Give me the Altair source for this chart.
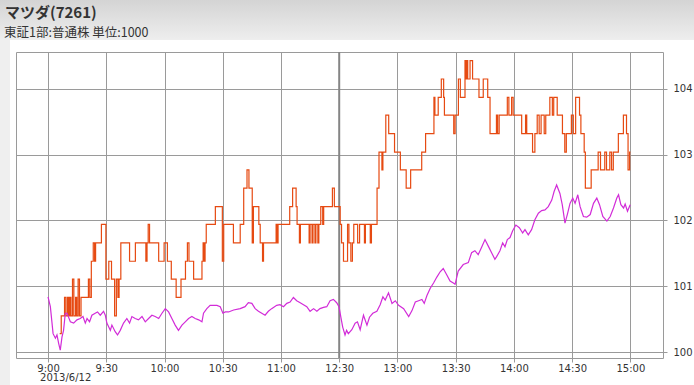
import json
import altair as alt
import pandas as pd

# ---------------- data (x = trading minutes since 9:00, lunch break removed) -------------
tick_minutes = [0, 30, 60, 90, 120, 150, 180, 210, 240, 270, 300]
tick_labels = ["9:00", "9:30", "10:00", "10:30", "11:00", "12:30",
               "13:00", "13:30", "14:00", "14:30", "15:00"]
y_ticks = [100, 101, 102, 103, 104]
break_minute = 150
date_label = "2013/6/12"
title_text = "マツダ(7261)"
subtitle_text = "東証1部:普通株 単位:1000"

# stock (orange step line): change points
orange_minutes = [
    6, 6.8, 8.5, 9.2, 10, 10.6, 11.2, 11.8, 12.6, 13.3, 14.2, 14.8, 15.5, 16.2, 17,
    20.8, 21.5, 22.3, 23.3, 24, 24.5, 27.5, 29.8, 31.3, 32.7, 34.3, 35.2, 36, 36.6, 37.5,
    42, 45, 50.4, 51, 51.6, 52.3, 57, 59.8, 61.5, 63.5, 66, 68.5, 70.8, 71.8, 72.6,
    75, 79.3, 79.9, 80.4, 80.9, 81.5, 86.2, 89.8, 90.5, 95.5, 99, 100.8, 102.5, 103.5,
    105.2, 105.8, 108.6, 109.3, 110.5, 111, 117.5, 118, 118.5, 124.5, 126, 127.8, 128.3,
    129.5, 130, 134.5, 135, 136, 136.5, 137.5, 138, 139, 139.5, 140.5, 141.5, 142,
    146.5, 147.5, 150.5, 151.2, 152.2, 154.3, 155, 156, 156.8, 157.5, 159.5, 160.5,
    163, 163.5, 166, 166.6, 169.5, 170.5, 172, 172.5, 174, 175.5, 178.5, 181.5, 184.5,
    186.8, 192.5, 194.5, 198.8, 199.3, 201, 202.6, 203.8, 204.2, 209, 209.7, 211.4,
    212.4, 214.8, 215.4, 215.8, 216.2, 217.4, 218.7, 222, 224.2, 226.5, 227.7, 231,
    231.6, 232.4, 236.6, 237.4, 238.8, 239.6, 244, 246, 246.6, 249.6, 250.8, 252, 253,
    254, 255.6, 256.4, 258.5, 259.8, 260.5, 262.3, 265, 266.2, 267, 269.6, 270.6, 271.8,
    273.8, 274.5, 276.2, 276.8, 279.8, 283.4, 284.6, 286.8, 287.7, 289.4, 290.3, 291.2,
    293.8, 296.4, 298, 298.8, 299.6, 300,
]
orange_values = [
    100.28, 100.55, 100.83, 100.55, 100.83, 100.55, 100.83, 100.55, 101.11, 100.55, 100.83, 100.55, 101.11, 100.55, 100.83,
    101.11, 100.83, 101.38, 101.66, 101.38, 101.66, 101.94, 101.11, 101.38, 101.11, 100.55, 101.11, 100.83, 101.11, 101.66,
    101.38, 101.66, 101.38, 101.66, 101.94, 101.66, 101.38, 101.66, 101.38, 101.11, 100.83, 101.11, 101.38, 101.66, 101.38,
    101.11, 101.38, 101.66, 101.38, 101.66, 101.94, 102.21, 101.38, 101.94, 101.66, 101.94, 102.49, 102.77, 102.49,
    101.66, 102.21, 101.94, 101.66, 101.38, 101.66, 101.94, 101.66, 101.94, 102.21, 102.49, 102.21, 101.94,
    101.66, 101.94, 101.66, 101.94, 101.66, 101.94, 101.66, 101.94, 101.66, 101.94, 102.21, 101.94, 102.21,
    102.49, 102.21, 101.94, 101.66, 101.38, 101.94, 101.66, 101.38, 101.66, 101.94, 101.66, 101.94,
    101.66, 101.94, 101.66, 101.94, 102.49, 103.04, 102.77, 103.04, 103.60, 103.32, 103.04, 102.77, 102.49,
    102.77, 103.04, 103.32, 103.87, 103.60, 103.87, 104.15, 103.87, 103.60, 103.32, 103.60, 104.15,
    103.87, 104.43, 104.15, 104.43, 104.15, 104.43, 104.15, 103.87, 104.15, 103.87, 103.32, 103.60,
    103.32, 103.60, 103.87, 103.60, 103.87, 103.60, 103.32, 103.60, 103.32, 103.04, 103.32, 103.60, 103.32,
    103.60, 103.32, 103.60, 103.87, 103.60, 103.87, 103.60, 103.32, 103.04, 103.32, 103.60, 103.32, 103.87,
    103.60, 103.32, 103.04, 102.49, 102.77, 103.04, 102.77, 103.04, 102.77, 103.04, 102.77, 103.04,
    103.32, 103.60, 103.32, 102.77, 103.04, 103.04,
]

# index (magenta line)
magenta_minutes = [
    0, 1.2, 2.6, 3.8, 4.6, 5.5, 6.3, 7.2, 8.0, 8.9, 9.8, 11.5, 13.2, 14.9, 16.6, 18, 19.2,
    20.1, 21.4, 22.6, 24.3, 25.5, 26.9, 28.6, 29.5, 30.3, 32.1, 32.9, 34.6, 35.8, 37.2,
    38.9, 40.6, 42, 43.2, 44.9, 46.6, 48.4, 50.1, 51.8, 53.5, 55.2, 57, 58.7, 60.4, 62.1,
    63.8, 65.5, 67.2, 69, 70.7, 72.4, 74.1, 75.8, 77.6, 79.3, 80.1, 81.8, 83.5, 85.3, 87,
    88.7, 90.1, 91.3, 93, 95.6, 99, 101.5, 103.2, 105, 106.7, 108.4, 110.1, 111.8, 113.5,
    115.2, 117.8, 119.5, 121.3, 123, 124.7, 126.4, 128.1, 129.9, 131.6, 133.3, 135, 136.8,
    138.5, 140.1, 141.9, 143.6, 145.3, 147, 148.7, 149.9, 150.8, 151.8, 153, 153.8, 154.7,
    156.5, 158.2, 159.4, 160.8, 162.5, 164.3, 165.6, 167.3, 169.4, 171.1, 172.5, 173.7,
    175.4, 177.2, 178.9, 180.6, 183.2, 185.8, 187.5, 189.2, 190.9, 192.6, 193.8, 195.2,
    196.9, 198.6, 200.3, 202, 203.6, 205.3, 207.1, 208.8, 209.7, 211.3, 213.9, 216.5,
    218.2, 219.9, 221.6, 223.3, 225.1, 226.8, 228.5, 230.2, 231.1, 232.8, 234.2, 235.4,
    236.6, 238, 239.3, 241, 242.8, 244.5, 245.7, 247.4, 249.1, 250.8, 252.6, 254.3, 256,
    257.7, 259.5, 260.7, 262, 263.7, 264.9, 266.3, 267.5, 268.9, 270.3, 271.5, 272.9,
    274.1, 275.8, 277.5, 279.3, 281, 282.7, 284.1, 285.8, 287.9, 289.6, 291.3, 293, 293.9,
    295.1, 296.5, 297.3, 298.5, 299.9,
]
magenta_values = [
    100.84, 100.69, 100.28, 100.21, 100.26, 100.13, 100.03, 100.23, 100.33, 100.59, 100.59, 100.46, 100.44, 100.49, 100.51, 100.54, 100.44,
    100.51, 100.46, 100.56, 100.59, 100.61, 100.56, 100.62, 100.56, 100.44, 100.33, 100.41, 100.31, 100.26, 100.33,
    100.44, 100.51, 100.44, 100.54, 100.51, 100.49, 100.54, 100.46, 100.51, 100.56, 100.54, 100.51, 100.59, 100.66, 100.61,
    100.51, 100.41, 100.33, 100.41, 100.46, 100.51, 100.54, 100.51, 100.49, 100.46, 100.59, 100.66, 100.71, 100.71, 100.71,
    100.69, 100.59, 100.61, 100.61, 100.64, 100.66, 100.69, 100.75, 100.74, 100.66, 100.62, 100.59, 100.56, 100.62,
    100.66, 100.71, 100.72, 100.69, 100.74, 100.76, 100.83, 100.78, 100.75, 100.72, 100.69, 100.62, 100.66,
    100.62, 100.66, 100.68, 100.69, 100.78, 100.80, 100.75, 100.69, 100.54, 100.38, 100.26, 100.33, 100.28,
    100.34, 100.44, 100.46, 100.34, 100.56, 100.41, 100.53, 100.59, 100.62, 100.72, 100.84, 100.79,
    100.90, 100.74, 100.78, 100.71, 100.66, 100.54, 100.63, 100.76, 100.78, 100.80, 100.74, 100.86,
    100.97, 101.05, 101.14, 101.22, 101.27, 101.18, 101.08, 101.05, 101.03, 101.23, 101.33, 101.36,
    101.51, 101.54, 101.48, 101.59, 101.71, 101.61, 101.51, 101.41, 101.45, 101.54, 101.66, 101.60,
    101.71, 101.74, 101.84, 101.93, 101.89, 101.81, 101.86, 101.78, 101.86, 102.01, 102.11, 102.15, 102.16,
    102.21, 102.31, 102.44, 102.54, 102.41, 102.24, 101.96, 102.09, 102.26, 102.34, 102.26, 102.39,
    102.21, 102.06, 102.05, 102.09, 102.26, 102.34, 102.24, 102.06, 101.99, 102.06, 102.19, 102.34, 102.39,
    102.24, 102.19, 102.25, 102.14, 102.24,
]

# ---------------- chart ----------------
W, H = 647, 306
X_DOMAIN = [-16.5, 316.8]
Y_DOMAIN = [99.91, 104.56]
GRID = "#9a9a9a"
ORANGE = "#e64a12"
MAGENTA = "#d22cd8"

orange_df = pd.DataFrame({"m": orange_minutes, "v": orange_values})
magenta_df = pd.DataFrame({"m": magenta_minutes, "v": magenta_values})
one = pd.DataFrame({"a": [0]})

label_expr = json.dumps(tick_labels).replace('"', "'") + "[round(datum.value / 30)]"

x_enc = alt.X("m:Q", scale=alt.Scale(domain=X_DOMAIN, nice=False, zero=False),
              axis=alt.Axis(values=tick_minutes, labelExpr=label_expr, title=None,
                            grid=True, gridColor=GRID, gridOpacity=1, domain=False,
                            tickColor=GRID, tickSize=4, labelPadding=1,
                            labelFontSize=10, labelColor="#333333", labelFont="DejaVu Sans"))
y_enc = alt.Y("v:Q", scale=alt.Scale(domain=Y_DOMAIN, nice=False, zero=False),
              axis=alt.Axis(values=y_ticks, orient="right", format="d", title=None,
                            grid=True, gridColor=GRID, gridOpacity=1, domain=False,
                            tickColor=GRID, tickSize=4, labelPadding=6,
                            labelFontSize=10, labelColor="#333333", labelFont="DejaVu Sans"))

header = alt.Chart(one).mark_rect(
    fill=alt.Gradient(gradient="linear", x1=0, x2=0, y1=0, y2=1,
                      stops=[alt.GradientStop(color="#d4d4d4", offset=0),
                             alt.GradientStop(color="#eeeeee", offset=1)]),
).encode(x=alt.value(-16), x2=alt.value(W + 31), y=alt.value(-52), y2=alt.value(-12))

left_strip = alt.Chart(one).mark_rect(fill="#efefef").encode(
    x=alt.value(-16), x2=alt.value(-6), y=alt.value(-12), y2=alt.value(H + 27))

title = alt.Chart(pd.DataFrame({"t": [title_text]})).mark_text(
    align="left", baseline="alphabetic", fontSize=15, fontWeight="bold",
    font="Noto Sans CJK JP", color="#333333",
).encode(text="t:N", x=alt.value(-11), y=alt.value(-52 + 17.8))

subtitle = alt.Chart(pd.DataFrame({"t": [subtitle_text]})).mark_text(
    align="left", baseline="alphabetic", fontSize=12.5,
    font="Noto Sans CJK JP", color="#333333",
).encode(text="t:N", x=alt.value(-12), y=alt.value(-52 + 37))

break_rule = alt.Chart(pd.DataFrame({"m": [break_minute]})).mark_rule(
    color="#858585", strokeWidth=2).encode(x=alt.X("m:Q"))

orange_line = alt.Chart(orange_df).mark_line(
    color=ORANGE, strokeWidth=1.2, interpolate="step-after").encode(x=x_enc, y=y_enc)

magenta_line = alt.Chart(magenta_df).mark_line(
    color=MAGENTA, strokeWidth=1.2).encode(x="m:Q", y="v:Q")

date_text = alt.Chart(pd.DataFrame({"m": [0], "t": [date_label]})).mark_text(
    align="left", baseline="middle", fontSize=10, font="DejaVu Sans", color="#333333", dx=-8,
).encode(x="m:Q", text="t:N", y=alt.value(H + 20))

chart = alt.layer(
    header, left_strip, title, subtitle, break_rule, orange_line, magenta_line, date_text
).properties(
    width=W, height=H,
    autosize=alt.AutoSizeParams(type="none"),
    padding={"left": 16, "top": 52, "right": 31, "bottom": 27},
    background="white",
).configure_view(stroke=GRID, strokeWidth=1, fill="white")

chart.save("out.html", embed_options={"renderer": "svg", "actions": False})
